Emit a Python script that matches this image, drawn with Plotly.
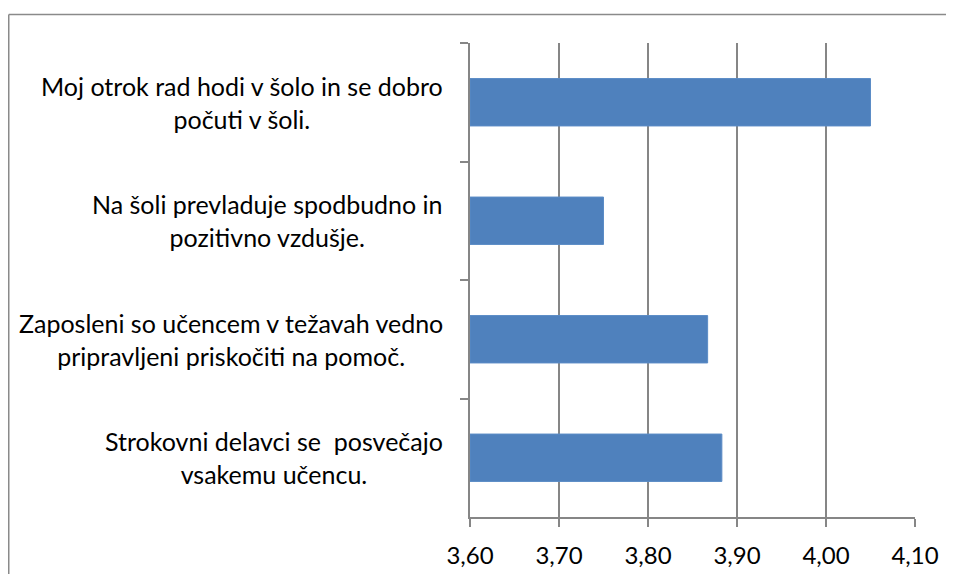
import plotly.graph_objects as go

categories = [
    "Moj otrok rad hodi v šolo in se dobro<br>počuti v šoli.",
    "Na šoli prevladuje spodbudno in<br>pozitivno vzdušje.",
    "Zaposleni so učencem v težavah vedno<br>pripravljeni priskočiti na pomoč.",
    "Strokovni delavci se \u00a0posvečajo<br>vsakemu učencu.",
]
values = [4.05, 3.75, 3.867, 3.883]
x_ticks = [3.6, 3.7, 3.8, 3.9, 4.0, 4.1]

FONT = "Lato"
GRAY = "#868686"

fig = go.Figure(go.Bar(
    x=[v - 3.6 for v in values], base=3.6, y=categories, orientation="h",
    marker=dict(color="#4F81BD", line=dict(color="#5B8CC6", width=1)),
    width=0.4,
))

for c in categories:
    fig.add_annotation(
        x=-0.056, xref="paper", y=c, yref="y", text=c,
        xanchor="right", yanchor="middle", align="center", showarrow=False,
        font=dict(family=FONT, size=25, color="#000000"),
    )

frame = dict(color="#8a8a8a", width=1.5)
fig.update_layout(
    width=946, height=573,
    margin=dict(l=462, r=39, t=35, b=57.4),
    paper_bgcolor="white", plot_bgcolor="white",
    separators=",.",
    showlegend=False,
    shapes=[
        dict(type="line", xref="paper", yref="paper",
             x0=-1.0365, x1=1.0876, y0=1.0603, y1=1.0603, line=frame, layer="below"),
        dict(type="line", xref="paper", yref="paper",
             x0=-1.0365, x1=-1.0365, y0=1.0603, y1=-0.12, line=frame, layer="below"),
    ],
)
fig.update_xaxes(
    range=[3.6, 4.1], tickvals=x_ticks, tickformat=".2f",
    showgrid=True, gridcolor=GRAY, gridwidth=1.5,
    showline=True, linecolor=GRAY, linewidth=1.5,
    ticks="outside", ticklen=8, tickcolor=GRAY, tickwidth=1.5,
    tickfont=dict(family=FONT, size=24, color="#000000"),
    ticklabelstandoff=8, zeroline=False,
)
fig.update_yaxes(
    autorange="reversed", type="category", tickson="boundaries",
    showticklabels=False, showgrid=False,
    showline=True, linecolor=GRAY, linewidth=1.5,
    ticks="outside", ticklen=8, tickcolor=GRAY, tickwidth=1.5,
)
fig.write_html("out.html")
